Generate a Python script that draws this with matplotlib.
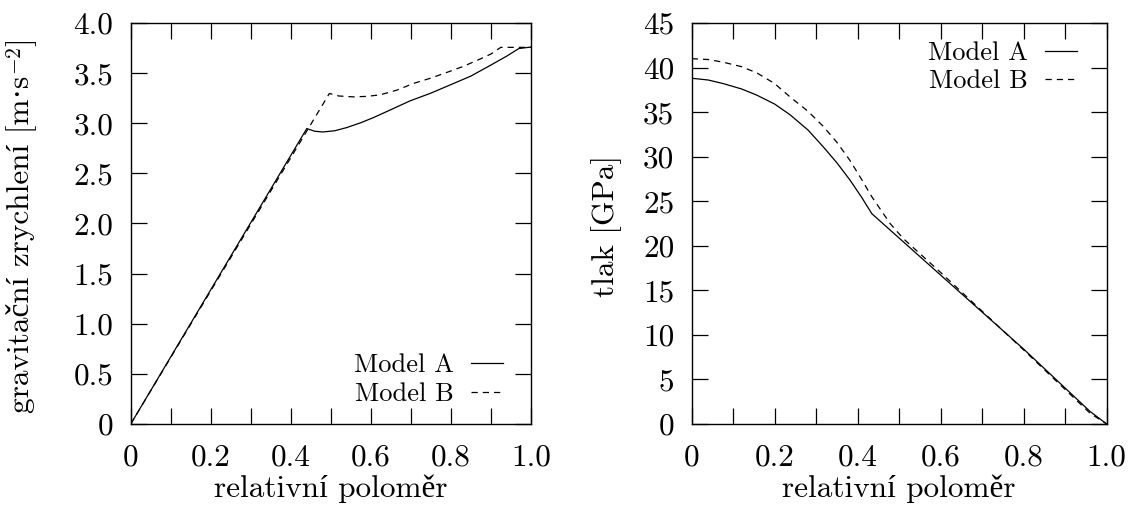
import matplotlib
matplotlib.use("Agg")
import matplotlib.pyplot as plt

plt.rcParams["font.family"] = ["cmr10", "Liberation Serif", "DejaVu Serif"]
plt.rcParams["mathtext.fontset"] = "cm"
plt.rcParams["axes.formatter.use_mathtext"] = True
plt.rcParams["font.size"] = 22.5

# gravitacni zrychleni
r_g_a = [0, 0.44, 0.46, 0.48, 0.51, 0.54, 0.575, 0.607, 0.65, 0.698, 0.75, 0.80,
         0.85, 0.90, 0.94, 0.97, 1.0]
g_a = [0, 2.947, 2.92, 2.913, 2.925, 2.957, 3.005, 3.057, 3.135, 3.223, 3.30, 3.385,
       3.47, 3.58, 3.67, 3.745, 3.76]
r_g_b = [0, 0.4965, 0.52, 0.5565, 0.59, 0.623, 0.665, 0.7065, 0.75, 0.79, 0.83,
         0.873, 0.90, 0.925, 1.0]
g_b = [0, 3.297, 3.272, 3.263, 3.268, 3.283, 3.33, 3.397, 3.45, 3.507, 3.565,
       3.64, 3.69, 3.757, 3.757]

# tlak
r_p_a = [0, 0.04, 0.076, 0.12, 0.157, 0.2, 0.237, 0.28, 0.317, 0.35, 0.381, 0.41,
         0.434, 0.6, 0.8, 0.96, 1.0]
p_a = [38.8, 38.6, 38.2, 37.6, 36.9, 35.9, 34.7, 33.0, 31.1, 29.3, 27.4, 25.4,
       23.6, 16.7, 8.4, 1.4, 0]
r_p_b = [0, 0.04, 0.076, 0.12, 0.157, 0.2, 0.237, 0.28, 0.317, 0.35, 0.381, 0.41,
         0.434, 0.478, 0.51, 0.6, 0.8, 0.96, 1.0]
p_b = [41.0, 40.9, 40.6, 40.1, 39.4, 38.2, 36.7, 35.1, 33.4, 31.6, 29.6, 27.4,
       25.5, 22.5, 20.8, 17.0, 8.3, 1.2, 0]

x_ticks = [0, 0.2, 0.4, 0.6, 0.8, 1.0]
x_labels = ["0", "0.2", "0.4", "0.6", "0.8", "1.0"]
x_minor = [0.1, 0.3, 0.5, 0.7, 0.9]
g_ticks = [0, 0.5, 1.0, 1.5, 2.0, 2.5, 3.0, 3.5, 4.0]
g_labels = ["0", "0.5", "1.0", "1.5", "2.0", "2.5", "3.0", "3.5", "4.0"]
p_ticks = [0, 5, 10, 15, 20, 25, 30, 35, 40, 45]
p_labels = [str(v) for v in p_ticks]

dash = (0, (5, 4))

fig = plt.figure(figsize=(11.42, 5.18), dpi=100)
ax1 = fig.add_axes([0.1145, 0.1815, 0.3503, 0.7741])
ax2 = fig.add_axes([0.6057, 0.1815, 0.3634, 0.7741])


def style(ax, yt, yl):
    ax.set_xlim(0, 1)
    ax.set_xticks(x_ticks, x_labels)
    ax.set_xticks(x_minor, minor=True)
    ax.set_yticks(yt, yl)
    ax.set_ylim(yt[0], yt[-1])
    ax.tick_params(which="both", direction="in", length=11.5, width=0.9,
                   top=True, right=True)
    ax.tick_params(axis="x", pad=14)
    ax.tick_params(axis="y", pad=12.5)
    for s in ax.spines.values():
        s.set_linewidth(1.0)
    ax.set_xlabel("relativní poloměr", labelpad=2)


leg_kw = dict(frameon=False, markerfirst=False, fontsize=19, handlelength=1.2,
              handletextpad=0.65, labelspacing=0.18, borderpad=0, borderaxespad=0)

ax1.plot(r_g_a, g_a, color="black", lw=0.9, label="Model A")
ax1.plot(r_g_b, g_b, color="black", lw=0.9, linestyle=dash, label="Model B")
style(ax1, g_ticks, g_labels)
ylab = ax1.set_ylabel("gravitační zrychlení [m·s", labelpad=27)
ax1.yaxis.label.set_y(0.447)
# exponent and closing bracket placed after the rotated label
sup = ax1.annotate("$-2$", xy=(0, 1), xycoords=ylab, xytext=(0.5, 0.5),
                   textcoords="offset points", rotation=90, ha="left", va="bottom",
                   fontsize=15.5)
ax1.annotate("]", xy=(0, 1), xycoords=(ylab, sup), xytext=(0, 0.5),
             textcoords="offset points", rotation=90, ha="left", va="bottom")
ax1.legend(loc="lower right", bbox_to_anchor=(0.93, 0.045), **leg_kw)

ax2.plot(r_p_a, p_a, color="black", lw=0.9, label="Model A")
ax2.plot(r_p_b, p_b, color="black", lw=0.9, linestyle=dash, label="Model B")
style(ax2, p_ticks, p_labels)
ax2.set_ylabel("tlak [GPa]", labelpad=15)
ax2.yaxis.label.set_y(0.494)
ax2.legend(loc="upper right", bbox_to_anchor=(0.928, 0.955), **leg_kw)

fig.savefig("out.png", dpi=100)
